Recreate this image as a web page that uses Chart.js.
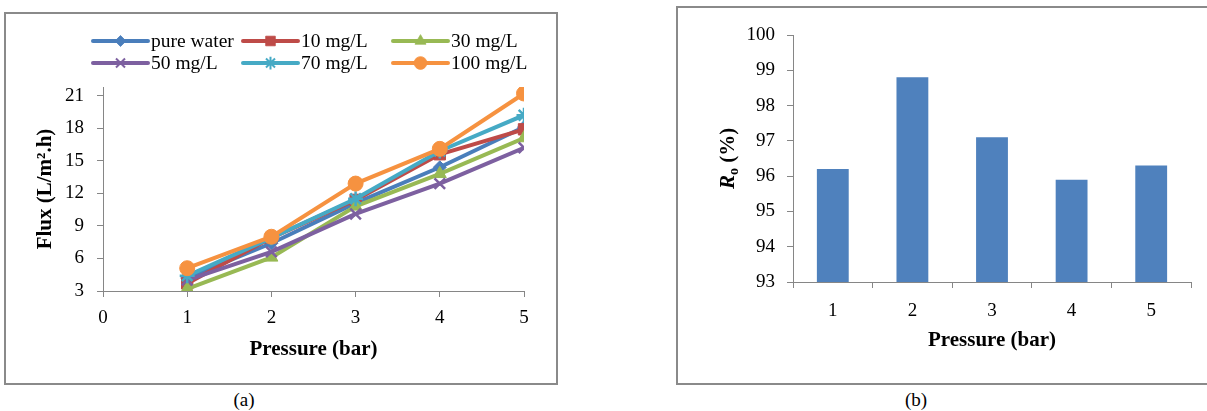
<!DOCTYPE html>
<html>
<head>
<meta charset="utf-8">
<script src="https://cdn.jsdelivr.net/npm/chart.js@4/dist/chart.umd.min.js"></script>
<style>
  html, body { margin: 0; padding: 0; background: #fff; }
  body { width: 1207px; height: 411px; position: relative; overflow: hidden; font-family: "Liberation Serif", "Times New Roman", serif; }
  .frame { position: absolute; border: 2px solid #8a8a8a; box-sizing: border-box; }
  .cap { position: absolute; font-size: 19px; color: #000; transform: translate(-50%, -50%); white-space: nowrap; }
  .holder { position: absolute; }
</style>
</head>
<body>
<div class="frame" style="left:4px; top:12px; width:554px; height:373px;"></div>
<div class="frame" style="left:676px; top:6px; width:560px; height:379px;"></div>
<div class="cap" style="left:244px; top:400px;">(a)</div>
<div class="cap" style="left:916px; top:400px;">(b)</div>
<div class="holder" style="left:0; top:0; width:600px; height:411px;"><canvas id="c1"></canvas></div>
<div class="holder" style="left:600px; top:0; width:607px; height:411px;"><canvas id="c2"></canvas></div>
<script>
// ---------- data ----------
const pressure = [1, 2, 3, 4, 5];
const fluxXTicks = [0, 1, 2, 3, 4, 5];
const fluxYTicks = [3, 6, 9, 12, 15, 18, 21];
const seriesNames = ["pure water", "10 mg/L", "30 mg/L", "50 mg/L", "70 mg/L", "100 mg/L"];
const pureWater = [4.2, 7.4, 11.1, 14.4, 18.1];
const mg10 = [3.7, 7.9, 11.4, 15.6, 17.9];
const mg30 = [3.2, 6.1, 10.8, 13.8, 17.1];
const mg50 = [4.0, 6.6, 10.1, 12.9, 16.2];
const mg70 = [4.4, 7.9, 11.5, 15.9, 19.2];
const mg100 = [5.1, 8.0, 12.9, 16.1, 21.2];
const rejCategories = ["1", "2", "3", "4", "5"];
const rejection = [96.2, 98.8, 97.1, 95.9, 96.3];
const rejYTicks = [93, 94, 95, 96, 97, 98, 99, 100];

// ---------- styles ----------
const SERIF = '"Liberation Serif", "Times New Roman", serif';
const AXIS_GREY = '#868686';
const seriesValues = [pureWater, mg10, mg30, mg50, mg70, mg100];
const seriesColors = ['#4A7EBB', '#BE4B48', '#98B954', '#7D60A0', '#46AAC5', '#F69240'];
const seriesMarkers = ['rectRot', 'rect', 'triangle', 'crossRot', 'star', 'circle'];
const seriesRadius = [6.5, 8, 7.5, 7.5, 7.5, 7.5];

const fluxDatasets = seriesNames.map((name, i) => ({
  label: name,
  data: pressure.map((p, j) => ({ x: p, y: seriesValues[i][j] })),
  borderColor: seriesColors[i],
  backgroundColor: seriesColors[i],
  pointBackgroundColor: seriesColors[i],
  pointBorderColor: seriesColors[i],
  pointStyle: seriesMarkers[i],
  pointRadius: seriesRadius[i],
  pointBorderWidth: (seriesMarkers[i] === 'crossRot' || seriesMarkers[i] === 'star') ? 2.5 : 1,
  borderWidth: 4,
  tension: 0,
  order: seriesNames.length - 1 - i
}));

function drawMarker(ctx, style, r, bw, color, x, y) {
  ctx.save();
  ctx.fillStyle = color; ctx.strokeStyle = color; ctx.lineWidth = bw;
  if (Chart.helpers && Chart.helpers.drawPoint) {
    Chart.helpers.drawPoint(ctx, { pointStyle: style, radius: r, rotation: 0, borderWidth: bw }, x, y);
  } else {
    ctx.beginPath(); ctx.arc(x, y, r, 0, Math.PI * 2); ctx.fill();
  }
  ctx.restore();
}

const legendPlugin = {
  id: 'customLegend',
  afterDraw(chart) {
    const ctx = chart.ctx;
    const colX = [93, 243, 393];
    const rowY = [41, 63];
    const lineLen = 55;
    chart.data.datasets.forEach((ds, i) => {
      const x0 = colX[i % 3];
      const y = rowY[Math.floor(i / 3)];
      ctx.save();
      ctx.strokeStyle = ds.borderColor;
      ctx.lineWidth = 4;
      ctx.lineCap = 'round';
      ctx.beginPath(); ctx.moveTo(x0, y); ctx.lineTo(x0 + lineLen, y); ctx.stroke();
      ctx.restore();
      drawMarker(ctx, ds.pointStyle, ds.pointRadius * 0.85, ds.pointBorderWidth * 0.8, ds.borderColor, x0 + lineLen / 2, y);
      ctx.save();
      ctx.fillStyle = '#000';
      ctx.font = '19.5px ' + SERIF;
      ctx.textBaseline = 'middle';
      ctx.textAlign = 'left';
      ctx.fillText(ds.label, x0 + lineLen + 3, y + 1);
      ctx.restore();
    });
  }
};

new Chart(document.getElementById('c1'), {
  type: 'line',
  data: { datasets: fluxDatasets },
  options: {
    responsive: true,
    maintainAspectRatio: false,
    animation: false,
    devicePixelRatio: 1,
    layout: { padding: { left: 0, top: 87, right: 76, bottom: 0 } },
    plugins: { legend: { display: false }, tooltip: { enabled: false } },
    scales: {
      x: {
        type: 'linear', min: 0, max: 5,
        afterBuildTicks: (s) => { s.ticks = fluxXTicks.map(v => ({ value: v })); },
        afterFit: (s) => { s.height = 120; },
        border: { display: true, color: AXIS_GREY, width: 1 },
        grid: { display: true, drawOnChartArea: false, drawTicks: true, tickLength: 6, color: AXIS_GREY },
        ticks: { color: '#000', font: { family: SERIF, size: 19 }, padding: 10, maxRotation: 0 },
        title: { display: true, text: 'Pressure (bar)', color: '#000', font: { family: SERIF, size: 21, weight: 'bold' }, padding: { top: 0, bottom: 49 } }
      },
      y: {
        type: 'linear', min: 3, max: 21.8,
        afterBuildTicks: (s) => { s.ticks = fluxYTicks.map(v => ({ value: v })); },
        afterFit: (s) => { s.width = 103; },
        border: { display: true, color: AXIS_GREY, width: 1 },
        grid: { display: true, drawOnChartArea: false, drawTicks: true, tickLength: 6, color: AXIS_GREY },
        ticks: { color: '#000', font: { family: SERIF, size: 19 }, padding: 13 },
        title: { display: true, text: 'Flux (L/m\u00B2.h)', color: '#000', font: { family: SERIF, size: 21, weight: 'bold' }, padding: { top: 33, bottom: 0 } }
      }
    }
  },
  plugins: [legendPlugin]
});

const rTitlePlugin = {
  id: 'rTitle',
  afterDraw(chart) {
    const ctx = chart.ctx;
    const area = chart.chartArea;
    const cx = 127, cy = (area.top + area.bottom) / 2;
    const big = 21, small = 14;
    ctx.save();
    ctx.translate(cx, cy);
    ctx.rotate(-Math.PI / 2);
    ctx.fillStyle = '#000';
    ctx.textBaseline = 'alphabetic';
    ctx.textAlign = 'left';
    const fR = 'italic bold ' + big + 'px ' + SERIF;
    const fo = 'bold ' + small + 'px ' + SERIF;
    const fP = 'bold ' + big + 'px ' + SERIF;
    ctx.font = fR; const wR = ctx.measureText('R').width;
    ctx.font = fo; const wo = ctx.measureText('o').width;
    ctx.font = fP; const wP = ctx.measureText(' (%)').width;
    let x = -(wR + wo + wP) / 2;
    const base = 7;
    ctx.font = fR; ctx.fillText('R', x, base); x += wR;
    ctx.font = fo; ctx.fillText('o', x, base + 4); x += wo;
    ctx.font = fP; ctx.fillText(' (%)', x, base);
    ctx.restore();
  }
};

new Chart(document.getElementById('c2'), {
  type: 'bar',
  data: {
    labels: rejCategories,
    datasets: [{
      label: 'Ro (%)',
      data: rejection,
      backgroundColor: '#4F81BD',
      borderWidth: 0,
      categoryPercentage: 1.0,
      barPercentage: 0.4
    }]
  },
  options: {
    responsive: true,
    maintainAspectRatio: false,
    animation: false,
    devicePixelRatio: 1,
    layout: { padding: { left: 0, top: 35, right: 16, bottom: 0 } },
    plugins: { legend: { display: false }, tooltip: { enabled: false } },
    scales: {
      x: {
        afterFit: (s) => { s.height = 129; },
        border: { display: true, color: AXIS_GREY, width: 1 },
        grid: { display: true, offset: true, drawOnChartArea: false, drawTicks: true, tickLength: 6, color: AXIS_GREY },
        ticks: { color: '#000', font: { family: SERIF, size: 19 }, padding: 12, maxRotation: 0 },
        title: { display: true, text: 'Pressure (bar)', color: '#000', font: { family: SERIF, size: 21, weight: 'bold' }, padding: { top: 0, bottom: 58 } }
      },
      y: {
        type: 'linear', min: 93, max: 100,
        afterBuildTicks: (s) => { s.ticks = rejYTicks.map(v => ({ value: v })); },
        afterFit: (s) => { s.width = 193; },
        border: { display: true, color: AXIS_GREY, width: 1 },
        grid: { display: true, drawOnChartArea: false, drawTicks: true, tickLength: 6, color: AXIS_GREY },
        ticks: { color: '#000', font: { family: SERIF, size: 19 }, padding: 12 }
      }
    }
  },
  plugins: [rTitlePlugin]
});
</script>
</body>
</html>
